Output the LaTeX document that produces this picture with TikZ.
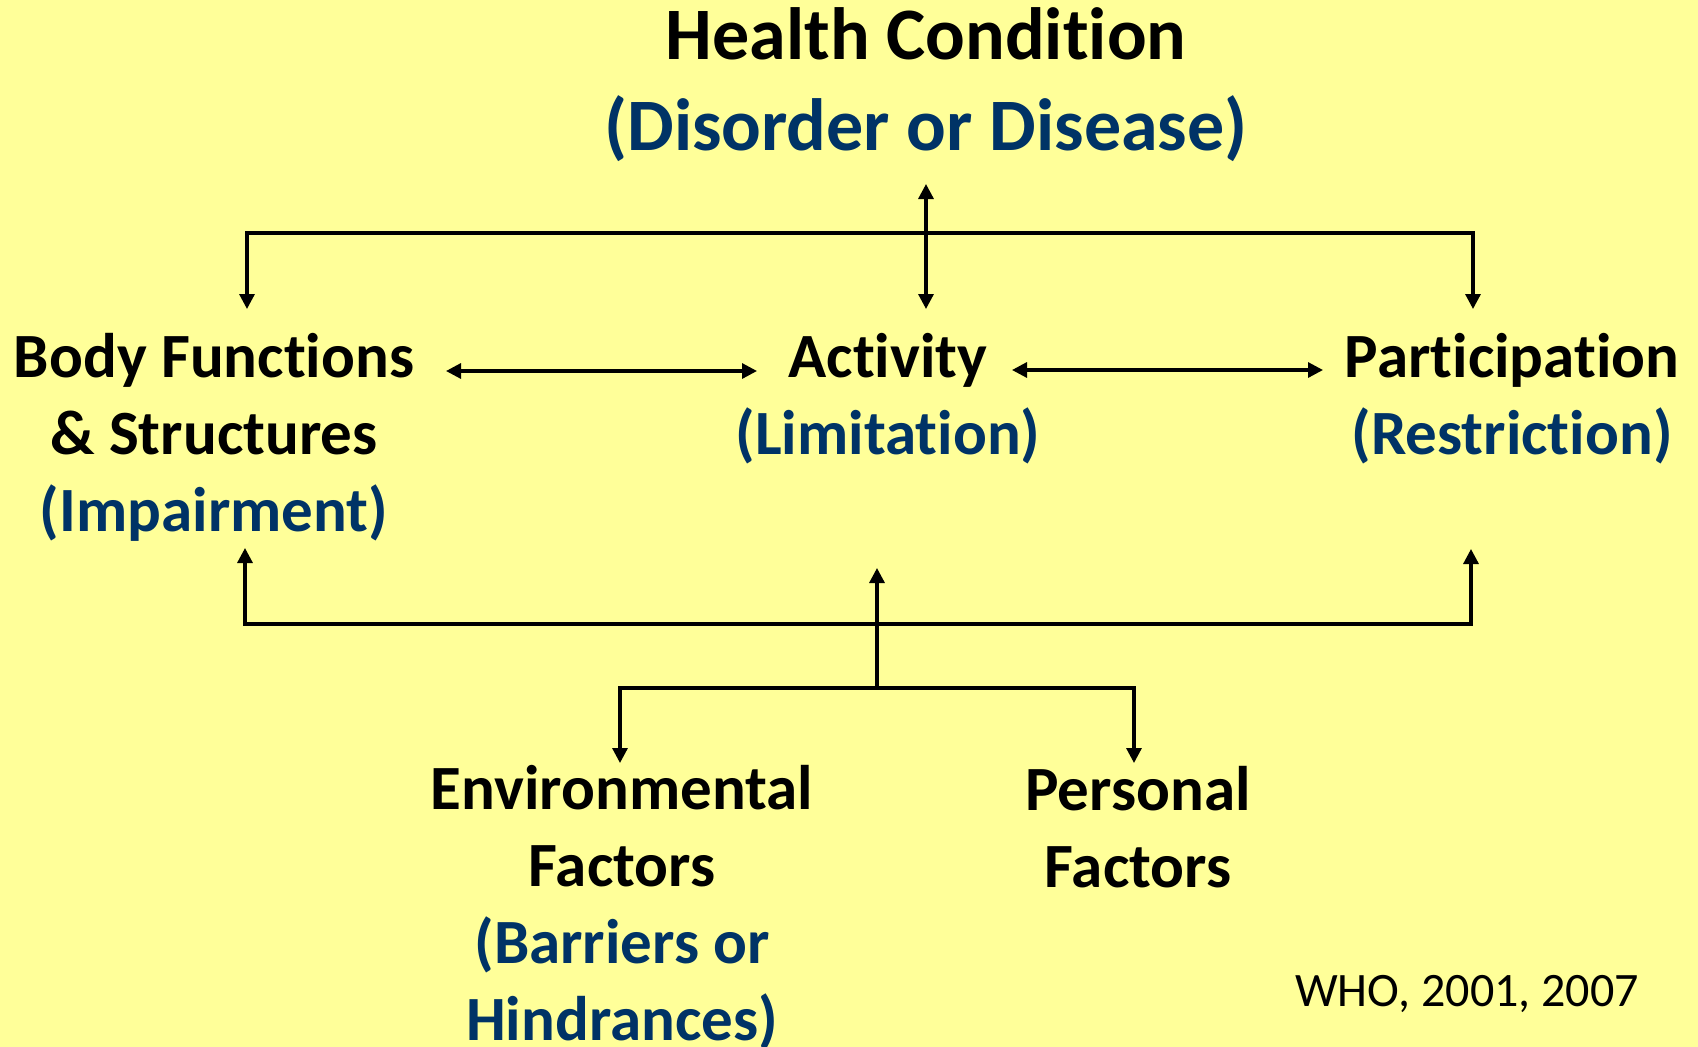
\documentclass[tikz,border=0pt]{standalone}
\usepackage{fontspec}
\setmainfont[Ligatures=NoCommon]{Carlito}
\usetikzlibrary{arrows.meta}
\definecolor{bgyellow}{HTML}{FFFF99}
\definecolor{icfblue}{HTML}{003366}
\tikzset{
  tri/.tip={Triangle[length=15pt,width=15pt]},
  conn/.style={line width=3.2pt, draw=black},
  titletext/.style={align=center, inner sep=0pt, font=\bfseries\fontsize{74}{91}\selectfont},
  boxtext/.style={align=center, inner sep=0pt, font=\bfseries\fontsize{63}{77}\selectfont},
  notetext/.style={inner sep=0pt, font=\fontsize{48}{56}\selectfont}
}
\newcommand{\bl}[1]{\textcolor{icfblue}{#1}}
\begin{document}
\begin{tikzpicture}[x=1pt,y=-1pt]
\fill[bgyellow] (0,0) rectangle (1698,1047);
\useasboundingbox (0,0) rectangle (1698,1047);
\begin{scope}
\clip (0,0) rectangle (1698,1047);
\node[titletext] (hc) at (926,85) {Health Condition\\\bl{(Disorder or Disease)}};
\node[boxtext] (bf) at (214,437) {Body Functions\\\& Structures\\\bl{(Impairment)}};
\node[boxtext] (act) at (888,399) {Activity\\\bl{(Limitation)}};
\node[boxtext] (part) at (1512,399) {Participation\\\bl{(Restriction)}};
\node[boxtext] (env) at (622,908) {Environmental\\Factors\\\bl{(Barriers or}\\\bl{Hindrances)}};
\node[boxtext] (pers) at (1138,827) {Personal\\Factors};
\node[notetext] (who) at (1467,994) {WHO, 2001, 2007};
\end{scope}
% connector end points
\coordinate (hcIn) at (926,184);
\coordinate (actTop) at (926,309);
\coordinate (bfTop) at (247,309);
\coordinate (partTop) at (1473,309);
\coordinate (topBusR) at (1473,233);
\coordinate (bfRight) at (446,371);
\coordinate (actLeft) at (757,371);
\coordinate (actRight) at (1012,370);
\coordinate (partLeft) at (1323,370);
\coordinate (bfBottom) at (245,548);
\coordinate (partBottom) at (1471,549);
\coordinate (lowBusR) at (1471,624);
\coordinate (actBottom) at (877,568);
\coordinate (factBus) at (877,688);
\coordinate (envTop) at (620,763);
\coordinate (persTop) at (1134,763);
\coordinate (persBus) at (1134,688);
% connectors
\draw[conn, tri-tri] (hcIn) -- (actTop);
\draw[conn, tri-tri] (bfTop) |- (topBusR) -- (partTop);
\draw[conn, tri-tri] (bfRight) -- (actLeft);
\draw[conn, tri-tri] (actRight) -- (partLeft);
\draw[conn, tri-tri] (bfBottom) |- (lowBusR) -- (partBottom);
\draw[conn, -tri] (factBus) -- (actBottom);
\draw[conn, tri-tri] (envTop) |- (persBus) -- (persTop);
\end{tikzpicture}
\end{document}
